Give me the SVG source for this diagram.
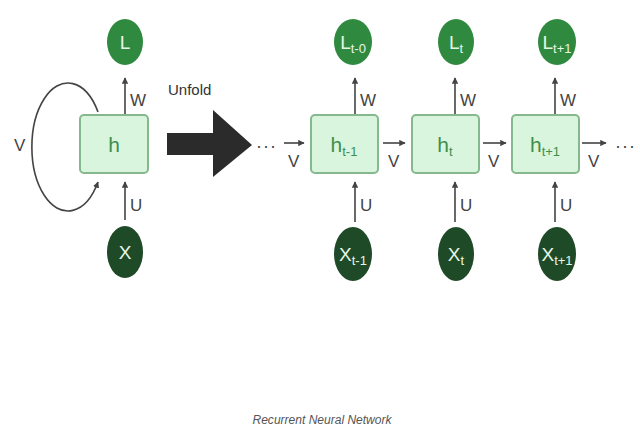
<svg xmlns="http://www.w3.org/2000/svg" width="640" height="432" viewBox="0 0 640 432">
  <defs>
    <marker id="head" viewBox="0 0 10 10" refX="9" refY="5" markerWidth="4" markerHeight="4" orient="auto" markerUnits="strokeWidth">
      <path d="M0,0 L10,5 L0,10 z" fill="#444"/>
    </marker>
  </defs>
  <style>
    .out { fill: #2f8a3f; }
    .in { fill: #1f4a27; }
    .box { fill: #d9f5de; stroke: #86b88e; stroke-width: 2; }
    .ctext { fill: #e6f6e6; font-family: "Liberation Sans", Arial, sans-serif; font-size: 19px; text-anchor: middle; }
    .htext { fill: #3f8f4c; font-family: "Liberation Sans", Arial, sans-serif; font-size: 21px; text-anchor: middle; }
    .sub { font-size: 13px; }
    .lbl { fill: #444; font-family: "Liberation Sans", Arial, sans-serif; font-size: 17px; }
    .word { fill: #333; font-family: "Liberation Sans", Arial, sans-serif; font-size: 15px; }
    .edge { stroke: #444; stroke-width: 1.6; fill: none; marker-end: url(#head); }
    .dots { fill: #444; font-family: "Liberation Sans", Arial, sans-serif; font-size: 18px; letter-spacing: 1px; }
  </style>
  <rect width="640" height="432" fill="#ffffff"/>

  <!-- connectors -->
  <g id="connectors">
    <!-- folded network: self loop and vertical links -->
    <path class="edge" d="M98,112 A36,64 0 1 0 98,182"/>
    <line class="edge" x1="125" y1="115" x2="125" y2="78"/>
    <line class="edge" x1="125" y1="220" x2="125" y2="182"/>
    <!-- unfolded network: vertical links -->
    <line class="edge" x1="355" y1="115" x2="355" y2="78"/>
    <line class="edge" x1="355" y1="222" x2="355" y2="182"/>
    <line class="edge" x1="455" y1="115" x2="455" y2="78"/>
    <line class="edge" x1="455" y1="222" x2="455" y2="182"/>
    <line class="edge" x1="555" y1="115" x2="555" y2="78"/>
    <line class="edge" x1="555" y1="222" x2="555" y2="182"/>
    <!-- unfolded network: recurrent links -->
    <line class="edge" x1="284" y1="143" x2="304" y2="143"/>
    <line class="edge" x1="383" y1="143" x2="405" y2="143"/>
    <line class="edge" x1="483" y1="143" x2="506" y2="143"/>
    <line class="edge" x1="582" y1="143" x2="606" y2="143"/>
    <!-- big unfold arrow -->
    <path d="M167,133 L213,133 L213,110 L252,145 L213,177 L213,155 L167,155 z" fill="#2b2b2b"/>
  </g>

  <!-- connector labels -->
  <g id="labels">
    <text class="lbl" x="14" y="151">V</text>
    <text class="lbl" x="130" y="106">W</text>
    <text class="lbl" x="130" y="211">U</text>
    <text class="word" x="168" y="95">Unfold</text>
    <text class="lbl" x="360" y="106">W</text>
    <text class="lbl" x="360" y="211">U</text>
    <text class="lbl" x="460" y="106">W</text>
    <text class="lbl" x="460" y="211">U</text>
    <text class="lbl" x="560" y="106">W</text>
    <text class="lbl" x="560" y="211">U</text>
    <text class="lbl" x="288" y="167">V</text>
    <text class="lbl" x="388" y="167">V</text>
    <text class="lbl" x="488" y="167">V</text>
    <text class="lbl" x="588" y="167">V</text>
    <text class="dots" x="256" y="152">···</text>
    <text class="dots" x="615" y="152">···</text>
  </g>

  <!-- folded network -->
  <g id="L">
    <ellipse class="out" cx="125" cy="42" rx="18" ry="23"/>
    <text class="ctext" x="125" y="49">L</text>
  </g>
  <g id="h">
    <rect class="box" x="80" y="115" width="68" height="58" rx="4"/>
    <text class="htext" x="114" y="152">h</text>
  </g>
  <g id="X">
    <ellipse class="in" cx="125" cy="252" rx="18" ry="26"/>
    <text class="ctext" x="125" y="259">X</text>
  </g>

  <!-- unfolded network -->
  <g id="L_t-0">
    <ellipse class="out" cx="353" cy="42" rx="19" ry="23"/>
    <text class="ctext" x="353" y="49">L<tspan class="sub" dy="4">t-0</tspan></text>
  </g>
  <g id="L_t">
    <ellipse class="out" cx="456" cy="42" rx="18" ry="23"/>
    <text class="ctext" x="456" y="49">L<tspan class="sub" dy="4">t</tspan></text>
  </g>
  <g id="L_t+1">
    <ellipse class="out" cx="557" cy="42" rx="19" ry="23"/>
    <text class="ctext" x="557" y="49">L<tspan class="sub" dy="4">t+1</tspan></text>
  </g>

  <g id="h_t-1">
    <rect class="box" x="311" y="115" width="67" height="58" rx="4"/>
    <text class="htext" x="344" y="152">h<tspan class="sub" dy="4">t-1</tspan></text>
  </g>
  <g id="h_t">
    <rect class="box" x="412" y="115" width="67" height="58" rx="4"/>
    <text class="htext" x="445" y="152">h<tspan class="sub" dy="4">t</tspan></text>
  </g>
  <g id="h_t+1">
    <rect class="box" x="512" y="115" width="67" height="58" rx="4"/>
    <text class="htext" x="545" y="152">h<tspan class="sub" dy="4">t+1</tspan></text>
  </g>

  <g id="X_t-1">
    <ellipse class="in" cx="353" cy="254" rx="19" ry="27"/>
    <text class="ctext" x="353" y="261">X<tspan class="sub" dy="4">t-1</tspan></text>
  </g>
  <g id="X_t">
    <ellipse class="in" cx="456" cy="254" rx="18" ry="27"/>
    <text class="ctext" x="456" y="261">X<tspan class="sub" dy="4">t</tspan></text>
  </g>
  <g id="X_t+1">
    <ellipse class="in" cx="557" cy="254" rx="19" ry="27"/>
    <text class="ctext" x="557" y="261">X<tspan class="sub" dy="4">t+1</tspan></text>
  </g>

  <!-- caption -->
  <text x="322" y="424" fill="#555" font-family="'Liberation Sans', Arial, sans-serif" font-size="12" font-style="italic" text-anchor="middle" textLength="139" lengthAdjust="spacingAndGlyphs">Recurrent Neural Network</text>
</svg>
